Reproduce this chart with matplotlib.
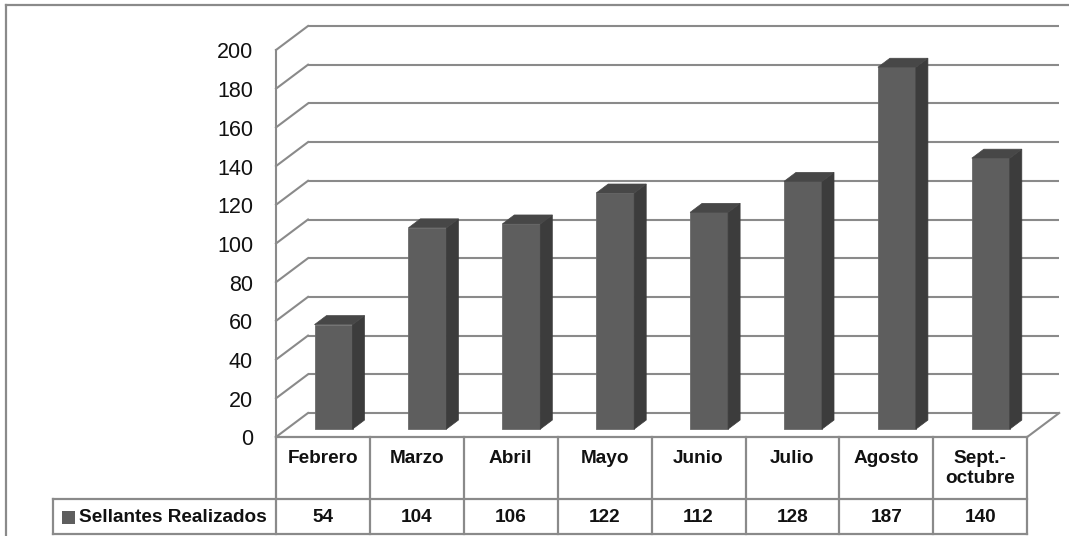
import matplotlib
matplotlib.use("Agg")
import matplotlib.pyplot as plt
from matplotlib.patches import Polygon, Rectangle

# ---- data ----
categories = ["Febrero", "Marzo", "Abril", "Mayo", "Junio", "Julio", "Agosto", "Sept.-\noctubre"]
values = [54, 104, 106, 122, 112, 128, 187, 140]
series_name = "Sellantes Realizados"
yticks = list(range(0, 201, 20))

# ---- layout (pixel geometry of the reference) ----
W, H = 1069, 536
PXX, PXY = 93.9, 1.935        # px per category, px per unit
X0, Y0 = 276, 437             # front-left corner of the floor (px)
DX, DY = 32 / PXX, 24 / PXY   # depth of the 3D box in data units
F0, FD = 0.33, 0.375          # bar front position / depth fraction
BW = 38 / PXX                 # bar width

def fx(px):
    return -0.5 + (px - X0) / PXX

def fy(py):
    return (Y0 - py) / PXY

FRONT = "#5e5e5e"
SIDE = "#3c3c3c"
TOP = "#474747"
GRID = "#8a8a8a"

narrow = ["Liberation Sans", "DejaVu Sans"]
reg = ["Liberation Sans", "DejaVu Sans"]
TFS = 13.7

fig = plt.figure(figsize=(W / 100, H / 100), dpi=100)
ax = fig.add_axes([0, 0, 1, 1])
ax.set_xlim(fx(0), fx(W))
ax.set_ylim(fy(H), fy(0))
ax.axis("off")

n = len(categories)
left, right = -0.5, n - 0.5

# gridlines: back wall + left wall diagonals
for v in yticks:
    ax.plot([left + DX, right + DX], [v + DY, v + DY], color=GRID, lw=1.5, zorder=1, solid_capstyle="butt")
    ax.plot([left, left + DX], [v, v + DY], color=GRID, lw=1.5, zorder=1)
    ax.text(fx(253), v - 1.5, str(v), ha="right", va="center", fontsize=15.5, family=reg, color="#111111")
ax.plot([left, left], [0, yticks[-1]], color=GRID, lw=1.5, zorder=1)
ax.plot([right, right + DX], [0, DY], color=GRID, lw=1.5, zorder=1)

# bars (3D effect)
xs = [i + F0 * DX for i in range(n)]
base = F0 * DY
ax.bar(xs, values, width=BW, bottom=base, color=FRONT, edgecolor="#6a6a6a", linewidth=0.6, zorder=3)
for x, v in zip(xs, values):
    xl, xr = x - BW / 2, x + BW / 2
    ddx, ddy = FD * DX, FD * DY
    side = Polygon([(xr, base), (xr + ddx, base + ddy), (xr + ddx, base + ddy + v), (xr, base + v)],
                   closed=True, facecolor=SIDE, edgecolor=SIDE, lw=0.5, zorder=3)
    top = Polygon([(xl, base + v), (xr, base + v), (xr + ddx, base + v + ddy), (xl + ddx, base + v + ddy)],
                  closed=True, facecolor=TOP, edgecolor=TOP, lw=0.5, zorder=3)
    ax.add_patch(side)
    ax.add_patch(top)

# data table
tl = dict(color=GRID, lw=1.6, zorder=2, solid_capstyle="projecting")
y_top, y_mid, y_bot = 0, fy(499), fy(534)
ax.plot([left, right], [y_top, y_top], **tl)
ax.plot([fx(53), right], [y_mid, y_mid], **tl)
ax.plot([fx(53), right], [y_bot, y_bot], **tl)
ax.plot([fx(53), fx(53)], [y_mid, y_bot], **tl)
for k in range(n + 1):
    ax.plot([left + k, left + k], [y_top, y_bot], **tl)

for i, (c, v) in enumerate(zip(categories, values)):
    ax.text(i, fy(450), c, ha="center", va="top", fontsize=TFS, fontweight="bold",
            family=narrow, linespacing=1.25, color="#111111")
    ax.text(i, fy(517), str(v), ha="center", va="center", fontsize=TFS, fontweight="bold",
            family=narrow, color="#111111")

# legend key in table
ax.add_patch(Rectangle((fx(62), fy(524)), 13 / PXX, 13 / PXY, facecolor=FRONT, edgecolor="none", zorder=3))
ax.text(fx(79), fy(517), series_name, ha="left", va="center", fontsize=TFS, fontweight="bold",
        family=narrow, color="#111111")

# outer chart border (top and left visible)
ax.plot([fx(6), fx(W)], [fy(4.5), fy(4.5)], color=GRID, lw=1.6)
ax.plot([fx(6), fx(6)], [fy(4.5), fy(H)], color=GRID, lw=1.6)

fig.savefig("out.png", dpi=100)
